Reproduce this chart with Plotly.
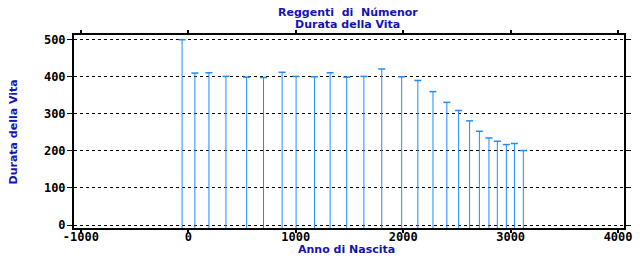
import plotly.graph_objects as go

rulers = ["Elros Tar-Minyatur", "Vardamir Nólimon", "Tar-Amandil", "Tar-Elendil",
          "Tar-Meneldur", "Tar-Aldarion", "Tar-Ancalimë", "Tar-Anárion", "Tar-Súrion",
          "Tar-Telperiën", "Tar-Minastir", "Tar-Ciryatan", "Tar-Atanamir", "Tar-Ancalimon",
          "Tar-Telemmaitë", "Tar-Vanimeldë", "Tar-Alcarin", "Tar-Calmacil", "Tar-Ardamin",
          "Ar-Adûnakhôr", "Ar-Zimrathôn", "Ar-Sakalthôr", "Ar-Gimilzôr", "Tar-Palantir",
          "Ar-Pharazôn"]
birth_year = [-58, 61, 192, 350, 543, 700, 873, 1003, 1174, 1320, 1474, 1634, 1800, 1986,
              2136, 2277, 2406, 2516, 2618, 2709, 2798, 2876, 2960, 3035, 3118]
lifespan = [500, 410, 411, 401, 399, 398, 412, 401, 400, 411, 399, 401, 421, 400,
            390, 360, 331, 309, 281, 253, 235, 226, 217, 220, 201]

x_ticks = [-1000, 0, 1000, 2000, 3000, 4000]
y_ticks = [0, 100, 200, 300, 400, 500]

title_lines = ["Reggenti\u00a0\u00a0di\u00a0\u00a0Númenor", "Durata della Vita"]
x_title = "Anno di Nascita"
y_title = "Durata della Vita"

x_range = [-1064, 4055]
y_range = [-8, 512.7]

stem_color = "#1E8CFF"
title_color = "#1414B4"

sx, sy = [], []
for b, v in zip(birth_year, lifespan):
    sx += [b, b, None]
    sy += [y_range[0], v, None]

fig = go.Figure()
fig.add_trace(go.Scatter(x=sx, y=sy, mode="lines",
                         line=dict(color=stem_color, width=1),
                         hoverinfo="skip", showlegend=False))
fig.add_trace(go.Scatter(x=birth_year, y=lifespan, mode="markers", text=rulers,
                         marker=dict(symbol="line-ew", size=5,
                                     line=dict(color=stem_color, width=1.5)),
                         showlegend=False))

tickfont = dict(family="DejaVu Sans Mono", size=12, color="black", weight="bold")
titlefont = dict(family="DejaVu Sans", size=11, color=title_color, weight="bold")

L, R, T, B = 74, 7, 35, 28
W, H = 640, 256
pw = W - L - R
ph = H - T - B


def py(pix):
    # convert a pixel row to paper y
    return (H - B - pix) / ph


annotations = [
    dict(text=title_lines[0], xref="paper", yref="paper", x=(352 - L) / pw, y=py(12),
         xanchor="center", yanchor="middle", showarrow=False, font=titlefont),
    dict(text=title_lines[1], xref="paper", yref="paper", x=(352 - L) / pw, y=py(24),
         xanchor="center", yanchor="middle", showarrow=False, font=titlefont),
    dict(text=x_title, xref="paper", yref="paper", x=(351 - L) / pw, y=py(249),
         xanchor="center", yanchor="middle", showarrow=False, font=titlefont),
    dict(text=y_title, xref="paper", yref="paper", x=(13 - L) / pw, y=0.5,
         textangle=-90, xanchor="center", yanchor="middle", showarrow=False,
         font=titlefont),
]

fig.update_layout(
    width=W, height=H,
    margin=dict(l=L, r=R, t=T, b=B, pad=0),
    paper_bgcolor="white", plot_bgcolor="white",
    xaxis=dict(range=x_range, tickvals=x_ticks, ticktext=[str(t) for t in x_ticks],
               showgrid=False, zeroline=False, showline=True, linecolor="black",
               linewidth=2, mirror="ticks", ticks="outside", ticklen=3, tickwidth=2,
               tickcolor="black", tickfont=tickfont, ticklabelstandoff=-6),
    yaxis=dict(range=y_range, tickvals=y_ticks, ticktext=[str(t) for t in y_ticks],
               showgrid=True, gridcolor="black", griddash="dot", gridwidth=1,
               zeroline=False, showline=True, linecolor="black", linewidth=2,
               mirror="ticks", ticks="outside", ticklen=5, tickwidth=1,
               tickcolor="black", tickfont=tickfont, ticklabelstandoff=-1),
    annotations=annotations,
)

fig.write_html("out.html")
